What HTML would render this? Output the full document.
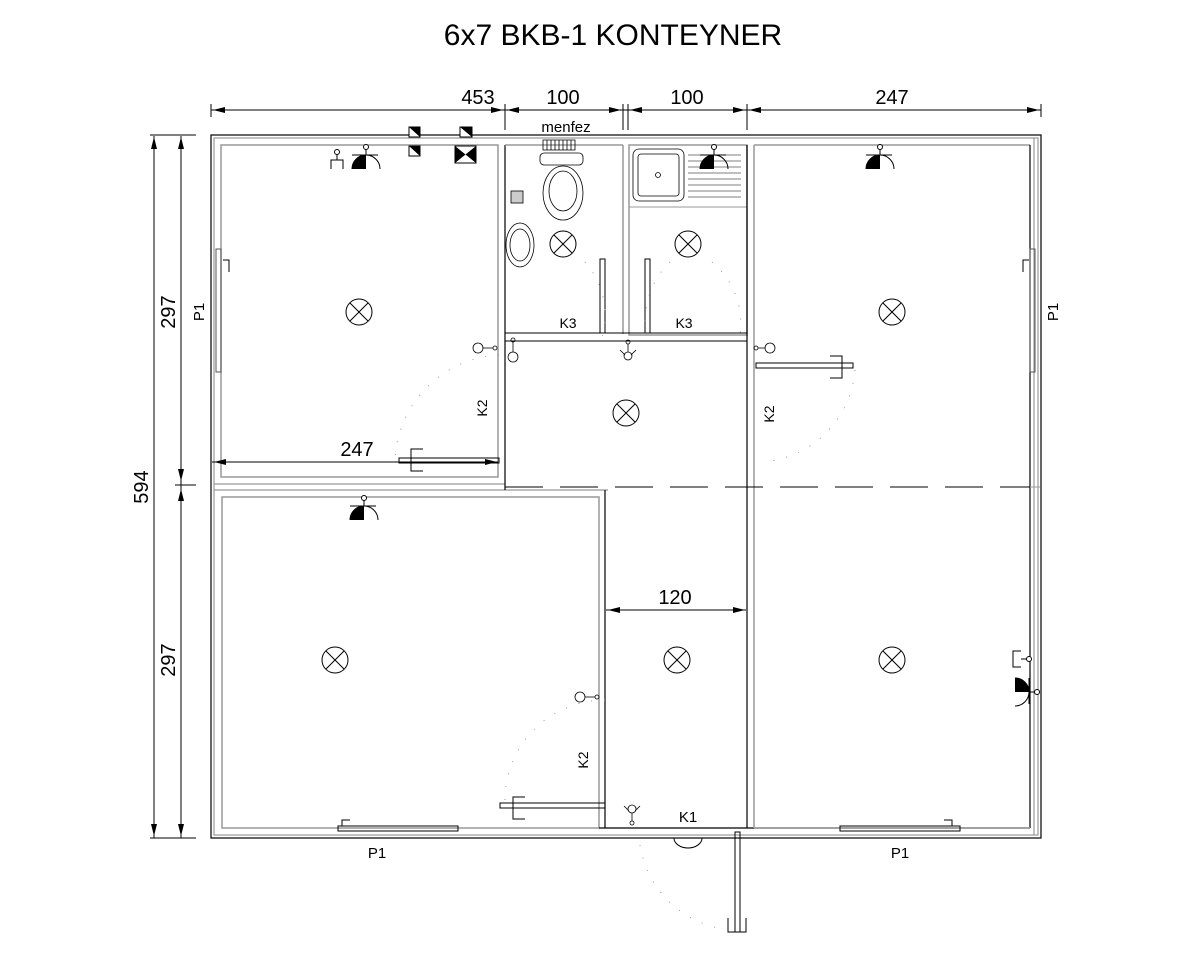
<!DOCTYPE html>
<html><head><meta charset="utf-8"><style>
html,body{margin:0;padding:0;background:#fff;width:1200px;height:960px;overflow:hidden}
svg{display:block}
text{font-family:"Liberation Sans",sans-serif;fill:#000}
</style></head><body>
<svg width="1200" height="960" viewBox="0 0 1200 960" xmlns="http://www.w3.org/2000/svg">
<defs>
<marker id="ar" viewBox="0 0 10 6" refX="10" refY="3" markerWidth="10" markerHeight="6" orient="auto-start-reverse" markerUnits="userSpaceOnUse"><path d="M0,0L10,3L0,6z" fill="#000"/></marker>
<g id="lamp"><circle r="13" fill="none" stroke="#000" stroke-width="1"/><path d="M-9,-9L9,9M9,-9L-9,9" stroke="#000" stroke-width="1"/></g>
<g id="sock"><path d="M-14,0A14,14 0 0,1 14,0" fill="none" stroke="#000"/><path d="M-14,0A14,14 0 0,1 0,-14V0z" fill="#000"/><line x1="-14" y1="-14" x2="12" y2="-14" stroke="#000"/><line x1="0" y1="-14" x2="0" y2="-20" stroke="#000"/><circle cy="-22" r="2.5" fill="#fff" stroke="#000"/></g>
</defs>
<text x="613" y="45" font-size="30" text-anchor="middle">6x7 BKB-1 KONTEYNER</text>

<!-- top dims -->
<g stroke="#000" stroke-width="1" fill="none">
<line x1="211" y1="110" x2="1041" y2="110"/>
<line x1="211" y1="104" x2="211" y2="117"/>
<line x1="505" y1="104" x2="505" y2="130"/>
<line x1="623" y1="104" x2="623" y2="130"/>
<line x1="628" y1="104" x2="628" y2="130"/>
<line x1="747" y1="104" x2="747" y2="130"/>
<line x1="1041" y1="104" x2="1041" y2="117"/>
<line x1="154" y1="136" x2="154" y2="838"/>
<line x1="181" y1="136" x2="181" y2="838"/>
<line x1="150" y1="135" x2="196" y2="135"/>
<line x1="175" y1="485" x2="196" y2="485"/>
<line x1="150" y1="838" x2="196" y2="838"/>
</g>
<g fill="#000">
<path d="M213,110l12,-3v6z M503,110l-12,-3v6z M507,110l12,-3v6z M621,110l-12,-3v6z M630,110l12,-3v6z M745,110l-12,-3v6z M749,110l12,-3v6z M1039,110l-12,-3v6z"/>
<path d="M154,137l-3,12h6z M154,836l-3,-12h6z M181,137l-3,12h6z M181,481l-3,-12h6z M181,489l-3,12h6z M181,836l-3,-12h6z"/>
</g>
<text x="478" y="104" font-size="20" text-anchor="middle">453</text>
<text x="563" y="104" font-size="20" text-anchor="middle">100</text>
<text x="687" y="104" font-size="20" text-anchor="middle">100</text>
<text x="892" y="104" font-size="20" text-anchor="middle">247</text>
<text font-size="20" text-anchor="middle" transform="translate(175,312) rotate(-90)">297</text>
<text font-size="20" text-anchor="middle" transform="translate(175,660) rotate(-90)">297</text>
<text font-size="20" text-anchor="middle" transform="translate(148,487) rotate(-90)">594</text>
<text font-size="15" text-anchor="middle" transform="translate(204,312) rotate(-90)">P1</text>
<text font-size="15" text-anchor="middle" transform="translate(1058,312) rotate(-90)">P1</text>
<text x="566" y="132" font-size="15" text-anchor="middle">menfez</text>

<!-- outer walls -->
<rect x="211" y="135" width="830" height="703" fill="none" stroke="#000" stroke-width="1.2"/>
<rect x="214" y="138" width="824" height="697" fill="none" stroke="#999" stroke-width="1.2"/>
<!-- room 1 -->
<rect x="221" y="145" width="277" height="332" fill="none" stroke="#999" stroke-width="1.5"/>
<line x1="214" y1="484" x2="505" y2="484" stroke="#999" stroke-width="1.2"/>
<line x1="214" y1="490" x2="608" y2="490" stroke="#999" stroke-width="1.2"/>
<line x1="505" y1="145" x2="505" y2="490" stroke="#000" stroke-width="1.2"/>
<!-- lower left room -->
<rect x="222" y="497" width="377" height="331" fill="none" stroke="#999" stroke-width="1.5"/>
<line x1="605" y1="490" x2="605" y2="828" stroke="#000" stroke-width="1.2"/>
<line x1="599" y1="828" x2="1030" y2="828" stroke="#000" stroke-width="1.2"/>
<!-- baths -->
<line x1="505" y1="145" x2="623" y2="145" stroke="#999" stroke-width="1.5"/>
<line x1="623" y1="145" x2="623" y2="334" stroke="#999" stroke-width="1.5"/>
<rect x="629" y="145" width="118" height="190" fill="none" stroke="#999" stroke-width="1.5"/>
<line x1="629" y1="207" x2="747" y2="207" stroke="#999" stroke-width="1"/>
<line x1="505" y1="333" x2="747" y2="333" stroke="#000" stroke-width="1"/>
<line x1="505" y1="341" x2="747" y2="341" stroke="#000" stroke-width="1"/>
<!-- right column -->
<line x1="747" y1="145" x2="747" y2="828" stroke="#000" stroke-width="1.2"/>
<line x1="754" y1="145" x2="754" y2="828" stroke="#999" stroke-width="1.5"/>
<line x1="754" y1="145" x2="1030" y2="145" stroke="#999" stroke-width="1.5"/>
<line x1="1030" y1="145" x2="1030" y2="828" stroke="#000" stroke-width="1.2"/>
<line x1="754" y1="828" x2="1030" y2="828" stroke="#999" stroke-width="1.5"/>
<line x1="1034" y1="138" x2="1034" y2="835" stroke="#999" stroke-width="1.2"/>
<line x1="505" y1="487" x2="1035" y2="487" stroke="#000" stroke-width="1" stroke-dasharray="38,17"/>
<line x1="1030" y1="487" x2="1040" y2="487" stroke="#999"/>

<!-- dim 247 inner & 120 -->
<line x1="212" y1="462" x2="498" y2="462" stroke="#000"/>
<path d="M214,462l12,-3v6z M497,462l-12,-3v6z" fill="#000"/>
<text x="357" y="456" font-size="20" text-anchor="middle">247</text>
<line x1="606" y1="610" x2="746" y2="610" stroke="#000"/>
<path d="M608,610l12,-3v6z M745,610l-12,-3v6z" fill="#000"/>
<text x="675" y="604" font-size="20" text-anchor="middle">120</text>

<!-- lamps -->
<use href="#lamp" x="359" y="312"/><use href="#lamp" x="563" y="244"/><use href="#lamp" x="688" y="244"/>
<use href="#lamp" x="892" y="312"/><use href="#lamp" x="626" y="413"/><use href="#lamp" x="335" y="660"/>
<use href="#lamp" x="677" y="660"/><use href="#lamp" x="892" y="660"/>
<!-- sockets -->
<use href="#sock" x="366" y="169"/><use href="#sock" x="880" y="169"/><use href="#sock" x="364" y="520"/><use href="#sock" x="714" y="169"/>
<g transform="translate(1015,692) rotate(90)"><use href="#sock"/></g>
<g fill="none" stroke="#000">
<path d="M331,169v-9h12v9 M337,160v-6"/><circle cx="337" cy="152" r="2.5" fill="#fff"/>
<path d="M1021,651h-8v16h8 M1021,659h6"/><circle cx="1029" cy="659" r="2.5" fill="#fff"/>
</g>
<!-- menfez squares -->
<g stroke="#000" fill="#fff">
<rect x="409" y="127" width="11" height="10"/><rect x="409" y="146" width="11" height="10"/>
<rect x="460" y="127" width="12" height="10"/><rect x="455" y="146" width="21" height="17"/>
</g>
<g fill="#000"><path d="M409,127h11v10z M409,146h11v10z M460,127h12v10z M455,146l10.5,8.5L455,163z M476,146l-10.5,8.5L476,163z"/></g>
<!-- toilet -->
<g fill="none" stroke="#000" stroke-width="0.8">
<path d="M543,140h32v10h-32z M547,140v10 M551,140v10 M555,140v10 M559,140v10 M563,140v10 M567,140v10 M571,140v10"/>
<rect x="518" y="153" width="43" height="12" rx="4" transform="translate(22,0)"/>
<ellipse cx="563" cy="193" rx="20" ry="27"/><ellipse cx="563" cy="191" rx="14" ry="20"/>
<ellipse cx="520" cy="245" rx="14" ry="22"/><ellipse cx="520" cy="245" rx="10" ry="16"/>
<rect x="511" y="191" width="12" height="12" fill="#ccc"/>
<rect x="633" y="149" width="51" height="52" rx="6"/><rect x="638" y="154" width="41" height="42" rx="3"/>
<circle cx="658" cy="175" r="2.5"/>
</g>
<g stroke="#000" stroke-width="0.6"><path d="M688,155h53M688,161h53M688,167h53M688,173h53M688,179h53M688,185h53M688,191h53M688,197h53"/></g>
<!-- K3 doors -->
<g fill="none" stroke="#000">
<rect x="600" y="259" width="5" height="74"/><rect x="645" y="259" width="5" height="74"/>
<rect x="216" y="249" width="5" height="123" stroke="#555"/><rect x="1030" y="249" width="5" height="123" stroke="#555"/>
<path d="M223,260h6v12" /><path d="M1029,260h-6v12"/>
<rect x="756" y="363" width="97" height="5"/><path d="M830,356h12v22h-12"/>
<rect x="399" y="458" width="100" height="5"/><path d="M423,449h-12v22h12"/>
<rect x="500" y="803" width="105" height="5"/><path d="M525,797h-12v22h12"/>
<rect x="735" y="832" width="5" height="100"/><path d="M728,918v14h18v-14"/>
<rect x="338" y="826" width="120" height="5"/><rect x="840" y="826" width="120" height="5"/>
<path d="M342,826v-6h8 M952,826v-6h-8"/>
<path d="M674,838a14,10 0 0,0 28,0"/>
</g>
<g fill="none" stroke="#999" stroke-dasharray="1,12">
<path d="M499,355A110,110 0 0,0 395,460"/><path d="M585,262A80,80 0 0,1 601,340"/><path d="M670,262A80,80 0 0,0 648,340"/>
<path d="M712,262A80,80 0 0,1 740,335"/><path d="M855,370A100,100 0 0,1 762,462"/>
<path d="M605,700A100,100 0 0,0 505,800"/><path d="M640,845A100,100 0 0,0 735,930"/>
</g>
<!-- switches -->
<g fill="none" stroke="#000" stroke-width="0.8">
<circle cx="478" cy="348" r="5"/><path d="M483,348h10"/><circle cx="495" cy="348" r="2"/>
<circle cx="513" cy="357" r="5"/><path d="M513,352v-10"/><circle cx="513" cy="340" r="2"/>
<circle cx="628" cy="356" r="4"/><path d="M628,352v-8 M620,350l5,5 M636,350l-5,5"/><circle cx="628" cy="342" r="2"/>
<circle cx="770" cy="348" r="5"/><path d="M765,348h-7"/><circle cx="756" cy="348" r="2"/>
<circle cx="580" cy="697" r="5"/><path d="M585,697h10"/><circle cx="597" cy="697" r="2"/>
<circle cx="632" cy="809" r="4"/><path d="M632,813v8 M624,806l5,5 M640,806l-5,5"/><circle cx="632" cy="823" r="2"/>
</g>
<text x="568" y="328" font-size="14" text-anchor="middle">K3</text>
<text x="684" y="328" font-size="14" text-anchor="middle">K3</text>
<text x="688" y="822" font-size="15" text-anchor="middle">K1</text>
<text x="377" y="858" font-size="15" text-anchor="middle">P1</text>
<text x="900" y="858" font-size="15" text-anchor="middle">P1</text>
<text font-size="14" text-anchor="middle" transform="translate(487,408) rotate(-90)">K2</text>
<text font-size="14" text-anchor="middle" transform="translate(774,414) rotate(-90)">K2</text>
<text font-size="14" text-anchor="middle" transform="translate(588,760) rotate(-90)">K2</text>
</svg>
</body></html>
